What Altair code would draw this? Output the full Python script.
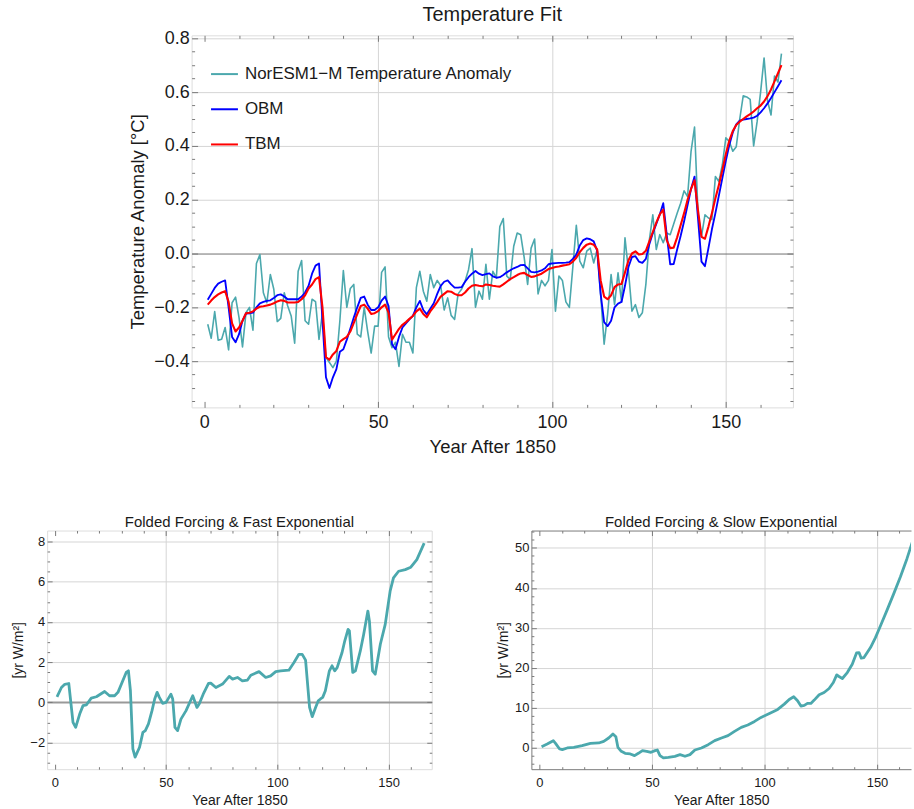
import altair as alt
import pandas as pd

# ---------------- data ----------------
years = list(range(1, 167))

noresm = [
    -0.263, -0.315, -0.216, -0.322, -0.319, -0.275, -0.358, -0.183, -0.162, -0.238,
    -0.347, -0.220, -0.200, -0.285, -0.037, -0.004, -0.146, -0.183, -0.078, -0.133,
    -0.253, -0.241, -0.146, -0.195, -0.232, -0.333, -0.066, -0.026, -0.250, -0.263,
    -0.170, -0.179, -0.319, -0.220, -0.386, -0.405, -0.424, -0.400, -0.250, -0.063,
    -0.200, -0.130, -0.115, -0.300, -0.310, -0.200, -0.290, -0.370, -0.270, -0.270,
    -0.070, -0.050, -0.310, -0.350, -0.330, -0.420, -0.300, -0.330, -0.330, -0.370,
    -0.127, -0.066, -0.140, -0.177, -0.078, -0.127, -0.100, -0.120, -0.210, -0.165,
    -0.230, -0.245, -0.150, -0.133, -0.103, -0.060, 0.018, -0.200, -0.140, -0.170,
    -0.040, -0.170, -0.066, -0.090, 0.100, 0.130, -0.084, -0.096, 0.027, 0.076,
    0.070, -0.014, -0.115, 0.020, 0.054, -0.150, -0.100, -0.120, -0.100, 0.015,
    -0.214, -0.084, -0.100, -0.180, -0.200, -0.050, 0.105, -0.028, -0.053, 0.009,
    0.020, -0.035, 0.015, -0.152, -0.337, -0.226, -0.078, -0.190, -0.072, -0.180,
    0.058, -0.065, -0.214, -0.190, -0.238, -0.220, -0.115, 0.050, 0.144, 0.015,
    0.070, 0.040, 0.076, 0.070, 0.110, 0.150, 0.187, 0.233, 0.212, 0.380,
    0.470, 0.150, 0.064, 0.144, 0.132, 0.126, 0.286, 0.268, 0.330, 0.430,
    0.416, 0.380, 0.397, 0.500, 0.586, 0.582, 0.573, 0.400, 0.490, 0.600,
    0.727, 0.567, 0.515, 0.660, 0.637, 0.743,
]

obm = [
    -0.172, -0.150, -0.128, -0.112, -0.105, -0.100, -0.200, -0.310, -0.330, -0.300,
    -0.250, -0.223, -0.222, -0.220, -0.200, -0.185, -0.180, -0.176, -0.174, -0.165,
    -0.155, -0.152, -0.160, -0.170, -0.170, -0.170, -0.170, -0.160, -0.145, -0.120,
    -0.075, -0.045, -0.037, -0.250, -0.460, -0.500, -0.460, -0.430, -0.365, -0.356,
    -0.320, -0.280, -0.238, -0.200, -0.165, -0.160, -0.190, -0.210, -0.210, -0.200,
    -0.175, -0.160, -0.195, -0.337, -0.356, -0.310, -0.275, -0.260, -0.245, -0.232,
    -0.200, -0.176, -0.210, -0.226, -0.205, -0.185, -0.150, -0.120, -0.105, -0.100,
    -0.115, -0.127, -0.127, -0.125, -0.105, -0.088, -0.075, -0.065, -0.075, -0.080,
    -0.077, -0.074, -0.085, -0.090, -0.088, -0.080, -0.070, -0.062, -0.055, -0.050,
    -0.043, -0.042, -0.055, -0.068, -0.070, -0.067, -0.063, -0.055, -0.040, -0.037,
    -0.036, -0.035, -0.035, -0.034, -0.032, -0.020, -0.004, 0.030, 0.050, 0.056,
    0.053, 0.045, 0.010, -0.150, -0.255, -0.270, -0.250, -0.200, -0.186, -0.180,
    -0.120, -0.050, -0.013, -0.010, -0.030, -0.035, -0.020, 0.035, 0.075, 0.110,
    0.145, 0.187, 0.070, -0.040, -0.039, 0.015, 0.065, 0.120, 0.180, 0.240,
    0.286, 0.130, -0.030, -0.047, 0.020, 0.090, 0.150, 0.215, 0.280, 0.345,
    0.403, 0.450, 0.480, 0.494, 0.498, 0.500, 0.502, 0.505, 0.512, 0.525,
    0.540, 0.558, 0.578, 0.600, 0.622, 0.644,
]

tbm = [
    -0.190, -0.175, -0.162, -0.152, -0.145, -0.140, -0.180, -0.260, -0.290, -0.275,
    -0.250, -0.222, -0.220, -0.215, -0.205, -0.198, -0.196, -0.193, -0.190, -0.185,
    -0.178, -0.174, -0.176, -0.182, -0.182, -0.182, -0.180, -0.170, -0.155, -0.130,
    -0.115, -0.095, -0.088, -0.200, -0.385, -0.395, -0.375, -0.362, -0.328, -0.318,
    -0.310, -0.290, -0.258, -0.225, -0.195, -0.190, -0.205, -0.225, -0.222, -0.214,
    -0.200, -0.190, -0.220, -0.320, -0.300, -0.280, -0.265, -0.255, -0.243, -0.232,
    -0.215, -0.205, -0.225, -0.237, -0.215, -0.198, -0.180, -0.160, -0.150, -0.140,
    -0.142, -0.150, -0.155, -0.155, -0.145, -0.130, -0.120, -0.117, -0.120, -0.122,
    -0.115, -0.117, -0.120, -0.122, -0.123, -0.115, -0.105, -0.095, -0.088, -0.080,
    -0.074, -0.072, -0.080, -0.087, -0.085, -0.080, -0.075, -0.066, -0.058, -0.054,
    -0.050, -0.048, -0.045, -0.043, -0.040, -0.030, -0.016, 0.005, 0.021, 0.033,
    0.037, 0.033, 0.015, -0.100, -0.160, -0.170, -0.155, -0.125, -0.115, -0.113,
    -0.070, -0.025, 0.000, 0.008, -0.004, -0.002, 0.010, 0.045, 0.080, 0.115,
    0.145, 0.163, 0.050, 0.020, 0.022, 0.060, 0.105, 0.150, 0.200, 0.240,
    0.272, 0.160, 0.062, 0.055, 0.100, 0.150, 0.205, 0.255, 0.310, 0.370,
    0.420, 0.455, 0.478, 0.490, 0.500, 0.510, 0.518, 0.528, 0.540, 0.550,
    0.565, 0.585, 0.610, 0.640, 0.670, 0.700,
]

series_names = ["NorESM1\u2212M Temperature Anomaly", "OBM", "TBM"]

fast_years = [1, 3, 4.5, 6.3, 8.2, 9.4, 11.2, 12.7, 14.2, 16.4, 18.7, 22.4, 24.6, 26.9, 28.4,
              32.1, 33.1, 34, 35.1, 36.1, 38.1, 39.6, 40.7, 42.1, 43.7, 44.9, 46, 47, 48.5, 50,
              52.2, 53, 54, 55.2, 56.7, 59, 62, 63.9, 64.9, 66.7, 69.1, 70.1, 72.4, 75.4, 78.4,
              79.9, 82.1, 84.3, 86.6, 88.1, 91.8, 94.8, 97, 99.3, 101.5, 105.2, 107.5, 109.7,
              111.2, 112.7, 114.5, 115.7, 117.2, 118.4, 119.4, 120.4, 121.6, 123.4, 124.6, 125.8,
              126.9, 129.1, 130.3, 131.8, 132.4, 133.9, 135.1, 137.3, 138.8, 140.7, 141.4, 142.8,
              144, 146.3, 148.5, 150.7, 152.2, 154.5, 157.5, 160, 162.7, 166]
fast_vals = [0.28, 0.74, 0.9, 0.94, -0.99, -1.24, -0.58, -0.16, -0.12, 0.21, 0.28, 0.54, 0.33, 0.33, 0.5,
             1.49, 1.57, 0.58, -2.31, -2.72, -2.23, -1.49, -1.4, -1.07, -0.41, 0.17, 0.5, 0.25, -0.05, 0.0,
             0.41, 0.17, -1.24, -1.4, -0.83, -0.41, 0.33, -0.25, -0.08, 0.41, 0.94, 0.96, 0.74, 0.91, 1.29,
             1.16, 1.24, 1.07, 1.11, 1.35, 1.53, 1.24, 1.32, 1.53, 1.57, 1.6, 1.98, 2.39,
             2.39, 2.1, -0.25, -0.71, -0.25, 0.08, 0.17, 0.25, 0.58, 1.57, 1.82, 1.57,
             1.73, 2.48, 3.05, 3.63, 3.55, 1.49, 1.57, 2.56, 3.38, 4.54, 4.04, 1.57,
             1.4, 2.89, 3.88, 5.53, 6.19, 6.52, 6.6, 6.72, 7.1, 7.92]

slow_years = [1, 3.5, 6.2, 7.2, 9, 10.2, 12.4, 15.3, 19, 22.7, 26.4, 28.6, 30.8, 32.7, 34,
              34.9, 36.4, 38.1, 40.4, 42.3, 44, 45.8, 47.7, 49.6, 51.4, 52.4, 53.6, 55.1, 57.3, 60.2,
              62.5, 64.7, 66.9, 69.1, 72, 75, 77.9, 80.9, 83.8, 86.7, 89.7, 92.6, 95.6, 98.5, 102.2,
              105.9, 108.8, 111, 113, 114.7, 116.2, 117.7, 119.1, 120.6, 122.1, 124.3, 126.5, 128.7,
              130.6, 132.1, 133.1, 134.6, 136.8, 139, 140.9, 142, 143, 144.2, 147.1, 149.3, 151.5,
              154.5, 157.4, 160.4, 163.3, 166]
slow_vals = [0.33, 1.0, 1.83, 1.16, -0.25, -0.4, 0.0, 0.17, 0.58, 1.16, 1.25, 1.66, 2.49, 3.49, 2.82,
             0.17, -0.83, -1.33, -1.5, -1.91, -1.33, -0.66, -0.83, -1.08, -0.66, -0.5, -1.91, -2.49, -2.33, -2.08,
             -1.66, -2.08, -1.66, -0.5, 0.0, 0.83, 1.83, 2.49, 3.07, 4.15, 5.15, 5.73, 6.64, 7.64, 8.64,
             9.63, 10.96, 12.13, 12.79, 11.79, 10.47, 10.63, 11.13, 11.13, 11.96, 13.29, 13.87, 14.87,
             16.36, 18.27, 17.86, 17.36, 18.85, 20.93, 23.75, 23.84, 22.43, 22.59, 25.08, 27.57, 30.48,
             34.5, 38.5, 42.8, 47.3, 52.0]

x_major = [0, 50, 100, 150]
x_minor = [10, 20, 30, 40, 60, 70, 80, 90, 110, 120, 130, 140, 160]
top_y_major = [-0.4, -0.2, 0.0, 0.2, 0.4, 0.6, 0.8]
top_y_minor = [-0.55, -0.5, -0.45, -0.35, -0.3, -0.25, -0.15, -0.1, -0.05, 0.05, 0.1, 0.15,
               0.25, 0.3, 0.35, 0.45, 0.5, 0.55, 0.65, 0.7, 0.75]
fast_y_major = [-2, 0, 2, 4, 6, 8]
fast_y_minor = [-3, -2.5, -1.5, -1, -0.5, 0.5, 1, 1.5, 2.5, 3, 3.5, 4.5, 5, 5.5, 6.5, 7, 7.5]
slow_y_major = [0, 10, 20, 30, 40, 50]
slow_y_minor = [-4, -2, 2, 4, 6, 8, 12, 14, 16, 18, 22, 24, 26, 28, 32, 34, 36, 38, 42, 44, 46, 48, 52, 54]

# ---------------- style ----------------
FONT = "Liberation Sans"
TEAL = "#4ba8ad"
FRAME = "#7a7a7a"
GRID = "#d5d5d5"
TXT = "#1a1a1a"

top_df = pd.DataFrame({
    "year": years * 3,
    "value": noresm + obm + tbm,
    "series": [series_names[0]] * 166 + [series_names[1]] * 166 + [series_names[2]] * 166,
})
fast_df = pd.DataFrame({"year": fast_years, "value": fast_vals})
slow_df = pd.DataFrame({"year": slow_years, "value": slow_vals})


def main_axis(orient, values, title, lab, tit, lpad, tpad, fmt=None, grid_color=None,
              grid_width=None, hide_zero_grid=False, domain=False):
    kw = dict(orient=orient, values=values, title=title, labelFont=FONT, labelFontSize=lab,
              labelColor=TXT, titleFont=FONT, titleFontSize=tit, titleFontWeight="normal",
              titleColor=TXT, labelPadding=lpad, titlePadding=tpad, ticks=False, tickSize=0,
              domain=domain, domainColor=FRAME, grid=True, gridColor=GRID, gridWidth=1,
              labelFlush=False, labelOverlap=False)
    if fmt:
        kw["format"] = fmt
    if grid_color:
        kw["gridColor"] = {"condition": {"test": "datum.value === 0", "value": grid_color}, "value": GRID}
    if grid_width:
        kw["gridWidth"] = {"condition": {"test": "datum.value === 0", "value": grid_width}, "value": 1}
    if hide_zero_grid:
        kw["gridOpacity"] = {"condition": {"test": "datum.value === 0", "value": 0}, "value": 1}
    return alt.Axis(**kw)


def tick_axis(orient, values, size):
    return alt.Axis(orient=orient, values=values, tickSize=size, offset=-size, ticks=True,
                    tickColor=FRAME, tickWidth=1, labels=False, domain=False, grid=False, title=None)


def frame_axis(orient):
    return alt.Axis(orient=orient, ticks=False, labels=False, domain=True, domainColor=FRAME,
                    grid=False, title=None)


def inv_layer(df, xsc, ysc, xax, yax):
    return alt.Chart(df).mark_line(opacity=0).encode(
        x=alt.X("year:Q", scale=xsc, axis=xax),
        y=alt.Y("value:Q", scale=ysc, axis=yax),
    )


def tick_layers(df, xsc, ysc, ymaj, ymin, maj, mnr, right=True):
    return [
        inv_layer(df, xsc, ysc, tick_axis("bottom", x_major, maj), tick_axis("left", ymaj, maj)),
        inv_layer(df, xsc, ysc, tick_axis("bottom", x_minor, mnr), tick_axis("left", ymin, mnr)),
        inv_layer(df, xsc, ysc, tick_axis("top", x_major, maj),
                  tick_axis("right", ymaj, maj) if right else None),
        inv_layer(df, xsc, ysc, tick_axis("top", x_minor, mnr),
                  tick_axis("right", ymin, mnr) if right else None),
    ]


# ---------------- top panel ----------------
tx = alt.Scale(domain=[-3.64, 169.3], nice=False, zero=False)
ty = alt.Scale(domain=[-0.572, 0.811], nice=False, zero=False)

top_main = alt.Chart(top_df).mark_line(strokeJoin="round").encode(
    x=alt.X("year:Q", scale=tx,
            axis=main_axis("bottom", x_major, "Year After 1850", 18, 18.5, 5.8, 6, hide_zero_grid=True)),
    y=alt.Y("value:Q", scale=ty,
            axis=main_axis("left", top_y_major, "Temperature Anomaly [\u00b0C]", 18, 18.5, 2.5, 6.5,
                           fmt=".1f", grid_color="#707070")),
    color=alt.Color("series:N",
                    scale=alt.Scale(domain=series_names, range=[TEAL, "#0000ff", "#ff0000"]),
                    legend=alt.Legend(orient="none", legendX=18.5, legendY=24.4, title=None,
                                      symbolType="stroke", symbolSize=729, symbolStrokeWidth=2,
                                      labelFont=FONT, labelFontSize=17, labelColor=TXT,
                                      labelLimit=500, rowPadding=12.3, labelOffset=6, padding=0)),
    strokeWidth=alt.StrokeWidth("series:N",
                                scale=alt.Scale(domain=series_names, range=[1.6, 2.1, 2.1]),
                                legend=None),
    order=alt.Order("series:N"),
)

top = alt.layer(top_main, *tick_layers(top_df, tx, ty, top_y_major, top_y_minor, 6, 3)).resolve_axis(
    x="independent", y="independent"
).properties(
    width=603.5, height=373.4,
    title=alt.TitleParams("Temperature Fit", font=FONT, fontSize=20, fontWeight="normal",
                          color=TXT, anchor="middle", frame="group", offset=4.6),
)

spacer = alt.Chart(pd.DataFrame({"v": [0]})).mark_point(opacity=0).properties(
    width=79.5, height=10, view=alt.ViewBackground(stroke="transparent")
)

top_row = alt.hconcat(spacer, top, spacing=0).resolve_legend(color="independent")

# ---------------- bottom left ----------------
fx = alt.Scale(domain=[-3.43, 169.4], nice=False, zero=False)
fy = alt.Scale(domain=[-3.32, 8.544], nice=False, zero=False)

fast_main = alt.Chart(fast_df).mark_line(color=TEAL, strokeWidth=2.8, strokeJoin="round").encode(
    x=alt.X("year:Q", scale=fx,
            axis=main_axis("bottom", x_major, "Year After 1850", 13, 14, 7.3, 4.5, hide_zero_grid=True)),
    y=alt.Y("value:Q", scale=fy,
            axis=main_axis("left", fast_y_major, "[yr W/m\u00b2]", 13, 14, 2.5, 4,
                           grid_color="#999999", grid_width=2)),
)

bl = alt.layer(fast_main, *tick_layers(fast_df, fx, fy, fast_y_major, fast_y_minor, 5, 2.5)).resolve_axis(
    x="independent", y="independent"
).properties(
    width=386, height=239.5,
    title=alt.TitleParams("Folded Forcing & Fast Exponential", font=FONT, fontSize=15,
                          fontWeight="normal", color=TXT, anchor="middle", frame="group", offset=0),
)

# ---------------- bottom right ----------------
sx = alt.Scale(domain=[-3.53, 165.1], nice=False, zero=False)
sy = alt.Scale(domain=[-5.3, 54.33], nice=False, zero=False)

slow_main = alt.Chart(slow_df).mark_line(color=TEAL, strokeWidth=2.8, strokeJoin="round", clip=True).encode(
    x=alt.X("year:Q", scale=sx,
            axis=main_axis("bottom", x_major, "Year After 1850", 13, 14, 7.3, 4.5,
                           hide_zero_grid=True, domain=True)),
    y=alt.Y("value:Q", scale=sy,
            axis=main_axis("left", slow_y_major, "[yr W/m\u00b2]", 13, 14, 2.5, 4, domain=True)),
)
slow_frame = inv_layer(slow_df, sx, sy, frame_axis("top"), None)

br = alt.layer(slow_main, slow_frame,
               *tick_layers(slow_df, sx, sy, slow_y_major, slow_y_minor, 5, 2.5, right=False)).resolve_axis(
    x="independent", y="independent"
).properties(
    width=381, height=239.5,
    view=alt.ViewBackground(stroke="transparent"),
    title=alt.TitleParams("Folded Forcing & Slow Exponential", font=FONT, fontSize=15,
                          fontWeight="normal", color=TXT, anchor="middle", frame="group", offset=0),
)

bottom = alt.hconcat(bl, br, spacing=63)

chart = alt.vconcat(top_row, bottom, spacing=58).resolve_legend(color="independent").properties(
    padding={"left": 11.3, "top": 2, "right": 0, "bottom": 0},
    background="white",
).configure_view(stroke=FRAME, strokeWidth=1).configure(font=FONT)

chart.save("out.html", embed_options={"renderer": "svg", "actions": False})
